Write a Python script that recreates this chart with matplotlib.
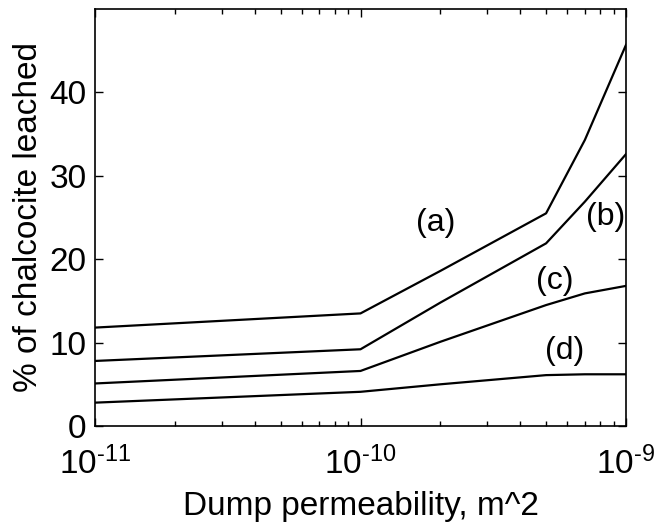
import matplotlib
matplotlib.use("Agg")
import matplotlib.pyplot as plt
from matplotlib.ticker import LogLocator

plt.rcParams['font.family'] = ['Liberation Sans', 'DejaVu Sans']
plt.rcParams['mathtext.fontset'] = 'custom'
plt.rcParams['mathtext.rm'] = 'Liberation Sans'
plt.rcParams['mathtext.it'] = 'Liberation Sans'
plt.rcParams['mathtext.default'] = 'regular'

# Data
permeability = [1e-11, 1e-10, 2e-10, 5e-10, 7e-10, 1e-9]
series_a = [11.8, 13.5, 18.6, 25.5, 34.3, 45.7]
series_b = [7.8, 9.2, 14.8, 21.9, 26.9, 32.6]
series_c = [5.1, 6.6, 10.1, 14.5, 15.9, 16.8]
series_d = [2.8, 4.1, 5.0, 6.1, 6.2, 6.2]
series_labels = ['(a)', '(b)', '(c)', '(d)']
label_x = [1.92e-10, 8.4e-10, 5.41e-10, 5.89e-10]
label_y = [24.3, 25.0, 17.4, 9.0]

y_ticks = [0, 10, 20, 30, 40]
x_ticks = [1e-11, 1e-10, 1e-9]
x_tick_labels = [r'$10^{\text{-11}}$', r'$10^{\text{-10}}$', r'$10^{\text{-9}}$']

fig = plt.figure(figsize=(6.65, 5.23), dpi=100)
ax = fig.add_axes([95/665, 1 - 426/523, (626-95)/665, (426-9)/523])

for s in [series_a, series_b, series_c, series_d]:
    ax.plot(permeability, s, color='black', linewidth=1.6)

for t, x, y in zip(series_labels, label_x, label_y):
    ax.text(x, y, t, fontsize=23, ha='center', va='center')

ax.set_xscale('log')
ax.set_xlim(1e-11, 1e-9)
ax.set_ylim(0, 50)
ax.set_yticks(y_ticks)
ax.set_yticklabels([str(v) for v in y_ticks])
ax.set_xticks(x_ticks)
ax.set_xticklabels(x_tick_labels)
ax.xaxis.set_minor_locator(LogLocator(base=10, subs=range(2, 10)))
ax.xaxis.set_minor_formatter(plt.NullFormatter())

ax.tick_params(axis='both', which='major', direction='in', top=True, right=True,
               length=6, width=1, labelsize=24, pad=6)
ax.tick_params(axis='x', which='major', pad=15)
ax.tick_params(axis='both', which='minor', direction='in', top=True, right=True,
               length=3.5, width=1)
for sp in ax.spines.values():
    sp.set_linewidth(1.2)

ax.set_xlabel('Dump permeability, m^2', fontsize=24, labelpad=7)
ax.set_ylabel('% of chalcocite leached', fontsize=24, labelpad=4)

fig.savefig('out.png', dpi=100)
